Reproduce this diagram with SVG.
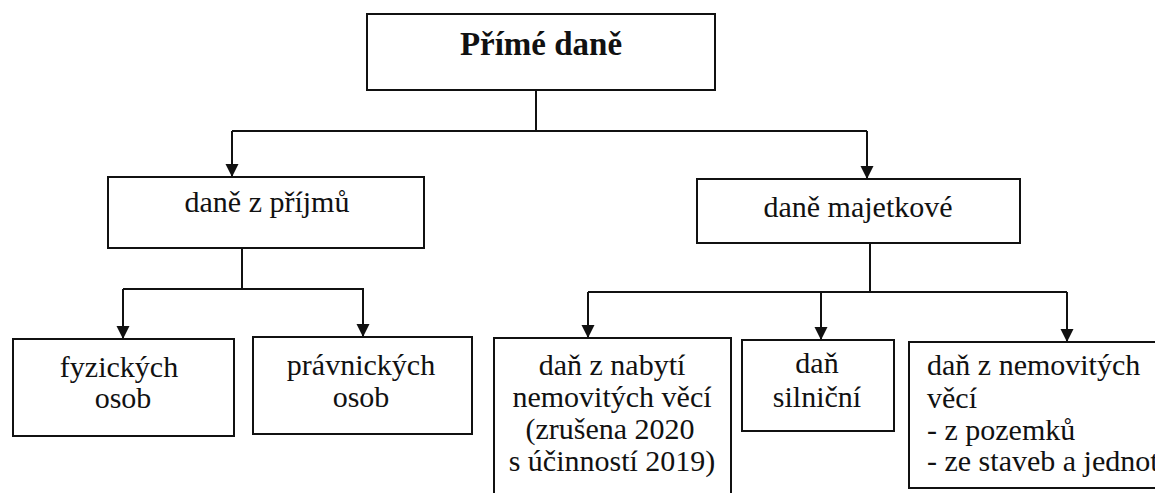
<svg xmlns="http://www.w3.org/2000/svg" width="1155" height="493" viewBox="0 0 1155 493">
<style>
.box{fill:#fff;stroke:#111;stroke-width:2}
.t{font-family:'Liberation Serif','DejaVu Serif',serif;font-size:30px;fill:#111}
.c{text-anchor:middle}
.b{font-weight:bold;font-size:33px}
.ln{fill:none;stroke:#111;stroke-width:2}
</style>
<defs>
<marker id="ah" markerUnits="userSpaceOnUse" markerWidth="14" markerHeight="14" refX="13" refY="6.5" orient="auto">
<path d="M0,0 L13,6.5 L0,13 z" fill="#111"/>
</marker>
</defs>
<rect width="1155" height="493" fill="#fff"/>
<g id="connectors">
<path class="ln" d="M536 90 V131 M232 131 H867"/>
<path class="ln" d="M232 131 V177" marker-end="url(#ah)"/>
<path class="ln" d="M867 131 V179" marker-end="url(#ah)"/>
<path class="ln" d="M242 248 V289 M123 289 H364"/>
<path class="ln" d="M123 289 V339" marker-end="url(#ah)"/>
<path class="ln" d="M363 289 V337" marker-end="url(#ah)"/>
<path class="ln" d="M870 243 V292 M588 292 H1067"/>
<path class="ln" d="M588 292 V338" marker-end="url(#ah)"/>
<path class="ln" d="M821 292 V340" marker-end="url(#ah)"/>
<path class="ln" d="M1067 292 V342" marker-end="url(#ah)"/>
</g>
<g id="n-prime">
<rect class="box" x="367" y="14" width="348" height="76"/>
<text class="t c b" x="541" y="55">Přímé daně</text>
</g>
<g id="n-prijmy">
<rect class="box" x="108" y="177" width="316" height="71"/>
<text class="t c" x="267" y="212">daně z příjmů</text>
</g>
<g id="n-majetkove">
<rect class="box" x="697" y="179" width="323" height="64"/>
<text class="t c" x="858" y="217">daně majetkové</text>
</g>
<g id="n-fyzicke">
<rect class="box" x="13" y="339" width="221" height="97"/>
<text class="t c" x="119" y="377">fyzických</text>
<text class="t c" x="123" y="408">osob</text>
</g>
<g id="n-pravnicke">
<rect class="box" x="253" y="337" width="219" height="97"/>
<text class="t c" x="361" y="375">právnických</text>
<text class="t c" x="361" y="407">osob</text>
</g>
<g id="n-nabyti">
<rect class="box" x="494" y="338" width="237" height="170"/>
<text class="t c" x="612" y="375">daň z nabytí</text>
<text class="t c" x="612" y="407">nemovitých věcí</text>
<text class="t c" x="610" y="439">(zrušena 2020</text>
<text class="t c" x="612" y="471">s účinností 2019)</text>
</g>
<g id="n-silnicni">
<rect class="box" x="742" y="340" width="152" height="91"/>
<text class="t c" x="817" y="373">daň</text>
<text class="t c" x="817" y="407">silniční</text>
</g>
<g id="n-nemovite">
<rect class="box" x="909" y="342" width="262" height="146"/>
<text class="t" x="927" y="375">daň z nemovitých</text>
<text class="t" x="927" y="408">věcí</text>
<text class="t" x="927" y="440">- z pozemků</text>
<text class="t" x="927" y="471">- ze staveb a jednotek</text>
</g>
</svg>
